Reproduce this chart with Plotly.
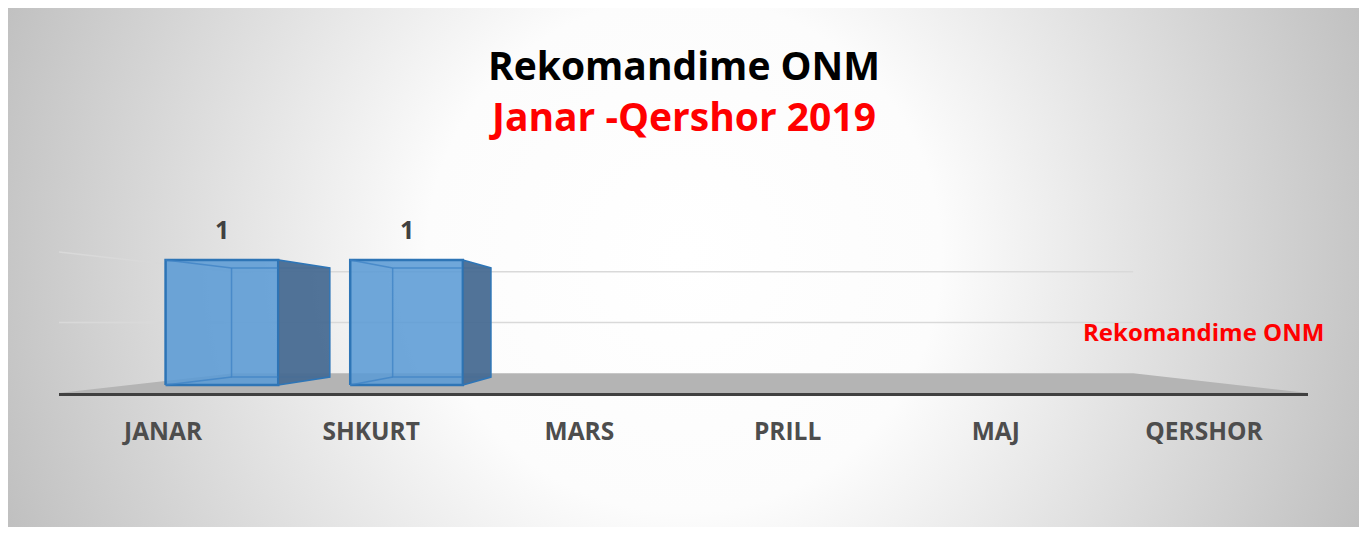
import base64
import plotly.graph_objects as go

# ---------------- data ----------------
categories = ["JANAR", "SHKURT", "MARS", "PRILL", "MAJ", "QERSHOR"]
values = [1, 1, None, None, None, None]
series_name = "Rekomandime ONM"
title_main = "Rekomandime ONM"
title_sub = "Janar -Qershor 2019"
grid_values = [0.5, 1.0]

# ---------------- geometry / style ----------------
# the page body adds an 8px margin, so figure px = reference px - 8
OFF = 8
W, H = 1351, 519
ML, MR, MT, MB = 51, 51, 159, 134
UNIT_PX = 141.0
YMAX = (H - MT - MB) / UNIT_PX
X0, X1 = -0.5, len(categories) - 0.5

VX, VY = (len(categories) - 1) / 2.0, 0.5   # vanishing point (data units)
T_BACK = 0.28                               # depth of back wall
T_BAR0, T_BAR1 = 0.113, 0.226               # depth of bar front / back
HALF_W = 0.305

FONT = "Open Sans"


def proj(x, y, t):
    return x + t * (VX - x), y + t * (VY - y)


def path(points, close=False):
    s = "M " + " L ".join(f"{x:.5f},{y:.5f}" for x, y in points)
    return s + (" Z" if close else "")


def px_to_paper_x(px):
    return (px - OFF - ML) / (W - ML - MR)


def px_to_paper_y(py):
    return (H - MB - (py - OFF)) / (H - MT - MB)


fig = go.Figure()

# ---------------- bars (perspective boxes) ----------------
for i, v in enumerate(values):
    if v is None:
        continue
    xl, xr = i - HALF_W, i + HALF_W
    front = [proj(xl, 0, T_BAR0), proj(xr, 0, T_BAR0), proj(xr, v, T_BAR0),
             proj(xl, v, T_BAR0), proj(xl, 0, T_BAR0)]
    fig.add_trace(go.Scatter(
        x=[p[0] for p in front], y=[p[1] for p in front], mode="lines",
        fill="toself", fillcolor="rgba(91,155,213,0.88)",
        line=dict(color="#2E75B6", width=2.5), showlegend=False,
        name=series_name, hoveron="fills",
        text=f"{categories[i]}: {v}", hoverinfo="text"))
    inner = [proj(xl, v, T_BAR0), proj(xl, v, T_BAR1), proj(xr, v, T_BAR1), (None, None),
             proj(xl, v, T_BAR1), proj(xl, 0, T_BAR1), proj(xr, 0, T_BAR1), (None, None),
             proj(xl, 0, T_BAR1), proj(xl, 0, T_BAR0)]
    fig.add_trace(go.Scatter(
        x=[p[0] for p in inner], y=[p[1] for p in inner], mode="lines",
        line=dict(color="rgba(62,130,196,0.75)", width=1.5),
        showlegend=False, hoverinfo="skip"))
    side = [proj(xr, 0, T_BAR0), proj(xr, v, T_BAR0), proj(xr, v, T_BAR1),
            proj(xr, 0, T_BAR1), proj(xr, 0, T_BAR0)]
    fig.add_trace(go.Scatter(
        x=[p[0] for p in side], y=[p[1] for p in side], mode="lines",
        fill="toself", fillcolor="rgba(72,108,146,0.95)",
        line=dict(color="#2E75B6", width=1.5), showlegend=False, hoverinfo="skip"))
    lx, ly = proj(i, v, T_BAR0)
    fig.add_annotation(x=lx, y=ly, text=str(v), showarrow=False, yanchor="bottom",
                       yshift=12, font=dict(family=FONT, size=25, color="#404040", weight="bold"))

# ---------------- floor & back-wall gridlines ----------------
floor = [(X0, 0), (X1, 0), proj(X1, 0, T_BACK), proj(X0, 0, T_BACK)]
shapes = [dict(type="path", xref="x", yref="y", path=path(floor, True),
               fillcolor="#b4b4b4", line=dict(width=0), layer="below")]
for g in grid_values:
    pts = [(X0, g), proj(X0, g, T_BACK), proj(X1, g, T_BACK)]
    shapes.append(dict(type="path", xref="x", yref="y", path=path(pts),
                       line=dict(color="#d9d9d9", width=1.5), layer="below"))

# ---------------- radial gradient background ----------------
bx0, by0, bx1, by1 = 8, 7, 1360, 535   # reference px
bw, bh = bx1 - bx0, by1 - by0
svg = (f'<svg xmlns="http://www.w3.org/2000/svg" width="{bw}" height="{bh}" '
       f'viewBox="0 0 {bw} {bh}" preserveAspectRatio="none"><defs>'
       f'<radialGradient id="g" gradientUnits="userSpaceOnUse" cx="{bw*0.5}" cy="{bh*0.47}" r="{bw*0.56}">'
       '<stop offset="0" stop-color="#ffffff"/><stop offset="0.34" stop-color="#fcfcfc"/>'
       '<stop offset="1" stop-color="#bcbcbc"/></radialGradient></defs>'
       '<rect width="100%" height="100%" fill="url(#g)"/></svg>')
src = "data:image/svg+xml;base64," + base64.b64encode(svg.encode()).decode()

fig.add_layout_image(dict(
    source=src, xref="paper", yref="paper",
    x=px_to_paper_x(bx0), y=px_to_paper_y(by0),
    sizex=bw / (W - ML - MR), sizey=bh / (H - MT - MB),
    xanchor="left", yanchor="top", sizing="stretch", layer="below"))

# legend-like label
fig.add_annotation(xref="paper", yref="paper", x=px_to_paper_x(1203), y=px_to_paper_y(331),
                   text=series_name, showarrow=False, xanchor="center", yanchor="middle",
                   font=dict(family=FONT, size=24, color="#FF0000", weight="bold"))

fig.update_layout(
    width=W, height=H, margin=dict(l=ML, r=MR, t=MT, b=MB),
    paper_bgcolor="white", plot_bgcolor="rgba(0,0,0,0)",
    shapes=shapes, showlegend=False,
    title=dict(text=f"{title_main}<br><span style='color:#FF0000'>{title_sub}</span>",
               x=px_to_paper_x(684), xref="paper", xanchor="center",
               y=1 - (80 - OFF) / H, yref="container", yanchor="middle",
               font=dict(family=FONT, size=39, color="#000000", weight="bold")),
    xaxis=dict(tickmode="array", tickvals=list(range(len(categories))), ticktext=categories,
               range=[X0, X1], showgrid=False, zeroline=False, ticks="",
               showline=True, linecolor="#404040", linewidth=3, ticklabelstandoff=15,
               tickfont=dict(family=FONT, size=24.5, color="#4d4d4d", weight="bold")),
    yaxis=dict(range=[0, YMAX], visible=False, showgrid=False, zeroline=False),
)

fig.write_html("out.html")
